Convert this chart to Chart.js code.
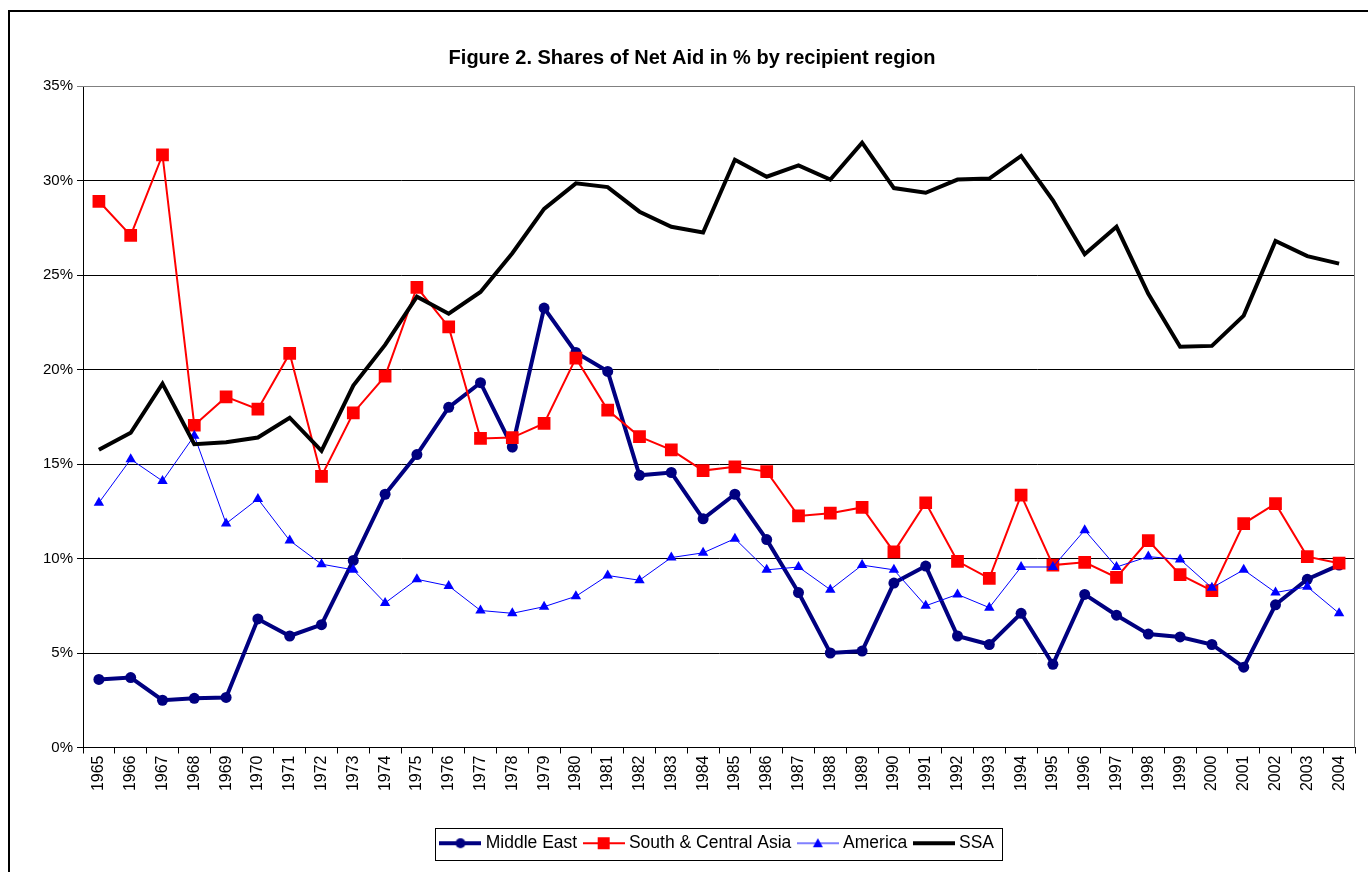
<!DOCTYPE html>
<html>
<head>
<meta charset="utf-8">
<title>Shares of Net Aid by recipient region</title>
<script src="https://cdn.jsdelivr.net/npm/chart.js@4.4.1/dist/chart.umd.min.js"></script>
<style>
  html, body { margin: 0; padding: 0; background: #fff; }
  canvas { display: block; }
</style>
</head>
<body>
<canvas id="aidChart" width="1368" height="872"></canvas>
<script>
// DATA - shares of net aid (%)
var years = ['1965','1966','1967','1968','1969','1970','1971','1972','1973','1974',
             '1975','1976','1977','1978','1979','1980','1981','1982','1983','1984',
             '1985','1986','1987','1988','1989','1990','1991','1992','1993','1994',
             '1995','1996','1997','1998','1999','2000','2001','2002','2003','2004'];

var middleEast = [3.6, 3.7, 2.5, 2.6, 2.65, 6.8, 5.9, 6.5, 9.9, 13.4,
                  15.5, 18.0, 19.3, 15.9, 23.25, 20.9, 19.9, 14.4, 14.55, 12.1,
                  13.4, 11.0, 8.2, 5.0, 5.1, 8.7, 9.6, 5.9, 5.45, 7.1,
                  4.4, 8.1, 7.0, 6.0, 5.85, 5.45, 4.25, 7.55, 8.9, 9.65];

var southCentralAsia = [28.9, 27.1, 31.35, 17.05, 18.55, 17.9, 20.85, 14.35, 17.7, 19.65,
                        24.35, 22.25, 16.35, 16.4, 17.15, 20.6, 17.85, 16.45, 15.75, 14.65,
                        14.85, 14.6, 12.25, 12.4, 12.7, 10.35, 12.95, 9.85, 8.95, 13.35,
                        9.65, 9.8, 9.0, 10.95, 9.15, 8.3, 11.85, 12.9, 10.1, 9.75];

var america = [12.95, 15.25, 14.1, 16.5, 11.85, 13.15, 10.95, 9.7, 9.4, 7.65,
               8.9, 8.55, 7.25, 7.1, 7.45, 8.0, 9.1, 8.85, 10.05, 10.3,
               11.05, 9.4, 9.55, 8.35, 9.65, 9.4, 7.5, 8.1, 7.4, 9.55,
               9.55, 11.5, 9.55, 10.1, 9.95, 8.45, 9.4, 8.2, 8.5, 7.1];

var ssa = [15.75, 16.65, 19.25, 16.05, 16.15, 16.4, 17.45, 15.7, 19.15, 21.3,
           23.85, 22.95, 24.1, 26.15, 28.5, 29.85, 29.65, 28.35, 27.55, 27.25,
           31.1, 30.2, 30.8, 30.05, 32.0, 29.6, 29.35, 30.05, 30.1, 31.3,
           28.95, 26.1, 27.55, 24.0, 21.2, 21.25, 22.85, 26.8, 26.0, 25.6];

var yTicks = [0, 5, 10, 15, 20, 25, 30, 35];

var FONT = '"Liberation Sans", Arial, sans-serif';

// little line+marker pictures for the legend
function legendSymbol(color, lineWidth, marker) {
  var c = document.createElement('canvas');
  c.width = 42; c.height = 14;
  var g = c.getContext('2d');
  g.strokeStyle = color;
  g.lineWidth = lineWidth;
  g.beginPath();
  g.moveTo(0, 7);
  g.lineTo(42, 7);
  g.stroke();
  g.fillStyle = color;
  if (marker === 'circle') {
    g.beginPath(); g.arc(21, 7, 5, 0, Math.PI * 2); g.fill();
  } else if (marker === 'square') {
    g.fillRect(15, 1, 12, 12);
  } else if (marker === 'triangle') {
    g.beginPath(); g.moveTo(21, 2); g.lineTo(26, 11); g.lineTo(16, 11); g.closePath(); g.fill();
  }
  return c;
}

var symbols = [
  legendSymbol('#000080', 4, 'circle'),
  legendSymbol('#FF0000', 2, 'square'),
  legendSymbol('#0000FF', 1, 'triangle'),
  legendSymbol('#000000', 4, null)
];

// frame, plot border and legend box
var framePlugin = {
  id: 'frame',
  beforeDraw: function(chart) {
    var ctx = chart.ctx;
    ctx.save();
    ctx.fillStyle = '#fff';
    ctx.fillRect(0, 0, chart.width, chart.height);
    ctx.strokeStyle = '#000';
    ctx.lineWidth = 2;
    ctx.beginPath();
    ctx.moveTo(9, chart.height + 5);
    ctx.lineTo(9, 11);
    ctx.lineTo(chart.width + 5, 11);
    ctx.stroke();
    ctx.restore();
  },
  beforeDatasetsDraw: function(chart) {
    var a = chart.chartArea, ctx = chart.ctx;
    ctx.save();
    ctx.strokeStyle = '#808080';
    ctx.lineWidth = 1;
    ctx.beginPath();
    ctx.moveTo(a.left, a.top + 0.5);
    ctx.lineTo(a.right - 0.5, a.top + 0.5);
    ctx.lineTo(a.right - 0.5, a.bottom);
    ctx.stroke();
    ctx.restore();
  },
  afterDraw: function(chart) {
    var boxes = chart.legend.legendHitBoxes;
    if (!boxes || !boxes.length) return;
    var l = Infinity, r = -Infinity, t = Infinity, b = -Infinity;
    boxes.forEach(function(h) {
      l = Math.min(l, h.left); r = Math.max(r, h.left + h.width);
      t = Math.min(t, h.top); b = Math.max(b, h.top + h.height);
    });
    var ctx = chart.ctx;
    ctx.save();
    ctx.strokeStyle = '#000';
    ctx.lineWidth = 1;
    ctx.strokeRect(Math.round(l - 9) + 0.5, Math.round(t - 7) + 0.5,
                   Math.round(r - l + 17), Math.round(b - t + 14));
    ctx.restore();
  }
};

var ctx = document.getElementById('aidChart').getContext('2d');
var chart = new Chart(ctx, {
  type: 'line',
  data: {
    labels: years,
    datasets: [{
      label: 'Middle East',
      data: middleEast,
      borderColor: '#000080',
      backgroundColor: '#000080',
      borderWidth: 4,
      pointStyle: 'circle',
      pointRadius: 5.5,
      pointBorderWidth: 0,
      order: 3
    }, {
      label: 'South & Central Asia',
      data: southCentralAsia,
      borderColor: '#FF0000',
      backgroundColor: '#FF0000',
      borderWidth: 2,
      pointStyle: 'rect',
      pointRadius: 9,
      pointBorderWidth: 0,
      order: 2
    }, {
      label: 'America',
      data: america,
      borderColor: '#0000FF',
      backgroundColor: '#0000FF',
      borderWidth: 1,
      pointStyle: 'triangle',
      pointRadius: 6,
      pointBorderWidth: 0,
      order: 1
    }, {
      label: 'SSA',
      data: ssa,
      borderColor: '#000000',
      backgroundColor: '#000000',
      borderWidth: 4,
      pointRadius: 0,
      order: 0
    }]
  },
  options: {
    responsive: false,
    animation: false,
    devicePixelRatio: 1,
    layout: { padding: { left: 29, right: 13, top: 0, bottom: 10 } },
    elements: { line: { tension: 0 } },
    scales: {
      x: {
        offset: true,
        grid: { offset: true, drawOnChartArea: false, drawTicks: true, tickLength: 6, color: '#000' },
        border: { color: '#000', width: 1 },
        ticks: {
          color: '#000',
          font: { family: FONT, size: 16 },
          minRotation: 90, maxRotation: 90,
          autoSkip: false,
          padding: 2
        },
        afterFit: function(s) { s.height = 77; }
      },
      y: {
        min: 0, max: 35,
        afterBuildTicks: function(s) { s.ticks = yTicks.map(function(v) { return { value: v }; }); },
        grid: {
          color: function(c) { return c.tick && c.tick.value === 35 ? '#808080' : '#000'; },
          lineWidth: 1,
          tickLength: 6
        },
        border: { color: '#000', width: 1 },
        ticks: {
          color: '#000',
          font: { family: FONT, size: 15 },
          padding: 4,
          callback: function(v) { return v + '%'; }
        },
        afterFit: function(s) { s.width = 54; }
      }
    },
    plugins: {
      title: {
        display: true,
        text: 'Figure 2. Shares of Net Aid in % by recipient region',
        color: '#000',
        font: { family: FONT, size: 20, weight: 'bold' },
        padding: { top: 46, bottom: 16 }
      },
      legend: {
        position: 'bottom',
        fullSize: false,
        labels: {
          usePointStyle: true,
          pointStyleWidth: 33,
          padding: 10,
          color: '#000',
          font: { family: FONT, size: 17.5 },
          sort: function(a, b) { return a.datasetIndex - b.datasetIndex; },
          generateLabels: function(chart) {
            var items = Chart.defaults.plugins.legend.labels.generateLabels(chart);
            items.forEach(function(it) { it.pointStyle = symbols[it.datasetIndex]; });
            return items;
          }
        }
      },
      tooltip: { enabled: false }
    }
  },
  plugins: [framePlugin]
});
</script>
</body>
</html>
